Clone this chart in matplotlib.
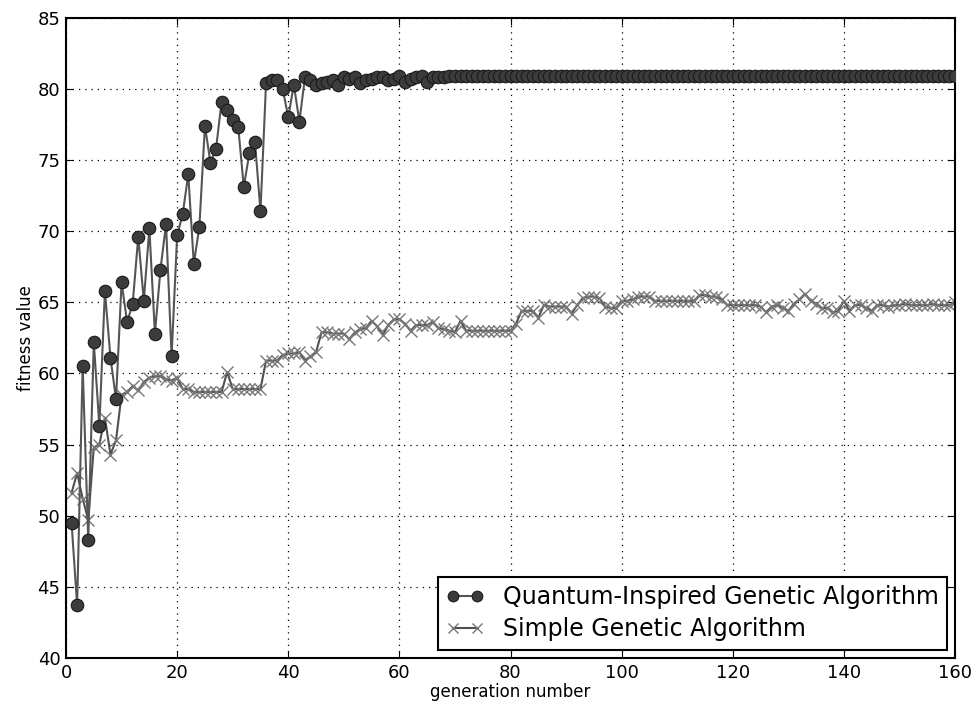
import matplotlib
matplotlib.use('Agg')
import matplotlib.pyplot as plt
import numpy as np

generations = list(range(1, 161))

qiga_head = [49.5, 43.7, 60.5, 48.3, 62.2, 56.3, 65.8, 61.1, 58.2, 66.4,
             63.6, 64.9, 69.6, 65.1, 70.2, 62.8, 67.3, 70.5, 61.2, 69.7,
             71.2, 74.0, 67.7, 70.3, 77.4, 74.8, 75.8, 79.1, 78.5, 77.8,
             77.3, 73.1, 75.5, 76.3, 71.4, 80.4, 80.6, 80.6, 80.0, 78.0,
             80.3, 77.7, 80.8, 80.6, 80.3, 80.4, 80.5, 80.6, 80.3, 80.8,
             80.7, 80.8, 80.4, 80.6, 80.7, 80.8, 80.8, 80.6, 80.7, 80.9,
             80.5, 80.7, 80.8, 80.9, 80.5, 80.8, 80.8, 80.8]
qiga_tail = [80.9] * (160 - len(qiga_head))
qiga = qiga_head + qiga_tail

sga = [51.6, 53.0, 51.2, 49.7, 54.8, 55.0, 56.9, 54.3, 55.3, 58.5,
       58.7, 59.1, 58.8, 59.4, 59.7, 59.8, 59.8, 59.6, 59.5, 59.7,
       58.9, 58.9, 58.7, 58.7, 58.7, 58.7, 58.7, 58.7, 60.1, 58.9,
       58.9, 58.9, 58.9, 58.9, 58.9, 60.9, 60.9, 60.9, 61.3, 61.4,
       61.4, 61.5, 60.9, 61.2, 61.5, 62.9, 62.9, 62.8, 62.8, 62.8,
       62.4, 62.9, 63.1, 63.2, 63.7, 63.3, 62.7, 63.4, 63.8, 63.8,
       63.5, 63.0, 63.4, 63.4, 63.4, 63.6, 63.2, 63.1, 63.0, 62.9,
       63.7, 63.0, 63.0, 63.0, 63.0, 63.0, 63.0, 63.0, 63.0, 63.0,
       63.5, 64.4, 64.4, 64.4, 63.9, 64.8, 64.7, 64.7, 64.7, 64.7,
       64.2, 64.8, 65.3, 65.4, 65.4, 65.3, 64.7, 64.6, 64.6, 65.1,
       65.1, 65.2, 65.4, 65.4, 65.4, 65.1, 65.1, 65.1, 65.1, 65.1,
       65.1, 65.1, 65.1, 65.5, 65.5, 65.4, 65.4, 65.2, 64.8, 64.8,
       64.8, 64.8, 64.8, 64.8, 64.7, 64.3, 64.7, 64.8, 64.6, 64.4,
       64.9, 65.2, 65.6, 65.1, 64.9, 64.6, 64.6, 64.3, 64.4, 65.1,
       64.4, 64.8, 64.8, 64.6, 64.4, 64.8, 64.8, 64.7, 64.8, 64.8,
       64.9, 64.8, 64.8, 64.8, 64.8, 64.9, 64.8, 64.8, 64.8, 65.0]

plt.rcParams['font.family'] = 'DejaVu Sans'

fig = plt.figure(figsize=(9.78, 7.09), dpi=100)
ax = fig.add_axes([0.0675, 0.072, 0.909, 0.903])

ax.plot(generations, qiga, '-o', color='#555555', linewidth=1.5,
        markersize=9, markerfacecolor='#3c3c3c', markeredgecolor='#1a1a1a',
        markeredgewidth=0.8, label='Quantum-Inspired Genetic Algorithm', zorder=3)
ax.plot(generations, sga, '-x', color='#505050', linewidth=1.5,
        markersize=9, markeredgecolor='#777777', markeredgewidth=1.0,
        label='Simple Genetic Algorithm', zorder=2)

ax.set_xlim(0, 160)
ax.set_ylim(40, 85)
ax.set_xticks(np.arange(0, 161, 20))
ax.set_yticks(np.arange(40, 86, 5))
ax.tick_params(direction='in', top=True, right=True, labelsize=13, length=5, pad=4)
ax.grid(True, linestyle=(0, (1, 4)), color='black', linewidth=0.9)
for s in ax.spines.values():
    s.set_linewidth(1.5)

ax.set_xlabel('generation number', fontsize=12, labelpad=1)
ax.set_ylabel('fitness value', fontsize=12, labelpad=2)

leg = ax.legend(loc='lower right', numpoints=2, fontsize=17, fancybox=False,
                framealpha=1, borderaxespad=0.35, handlelength=1.6,
                borderpad=0.35, labelspacing=0.35, markerscale=0.85)
leg.get_frame().set_edgecolor('black')
leg.get_frame().set_linewidth(1.5)

plt.savefig('out.png', dpi=100)
